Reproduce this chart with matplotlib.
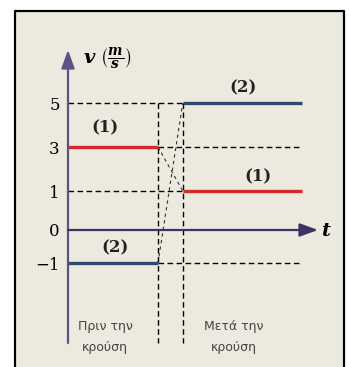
import matplotlib.pyplot as plt
import numpy as np
from matplotlib.patches import Rectangle, FancyArrowPatch
from matplotlib.lines import Line2D

plt.rcParams['mathtext.fontset'] = 'dejavuserif'

# Données : vitesses avant / après la collision
bodies = ['(1)', '(2)']
v_before = [3, -1]
v_after = [1, 5]
line_colors = ['#d42a2e', '#2d4b6e']
yticks = [5, 3, 1, 0, -1]
ytick_labels = ['5', '3', '1', '0', '\u22121']
phase_labels = ['Πριν την\nκρούση', 'Μετά την\nκρούση']

# temps (unités arbitraires) : début, début/fin du choc, fin
t0, t_c1, t_c2, t_end = 0.0, 4.0, 5.1, 10.4

# échelle verticale schématique (0 et -1 plus espacés)
kv = np.array([-100, -1, 0, 1, 5, 100], float)
kp = np.array([-99 * 35, 0, 33, 72, 160, 160 + 95 * 22], float)


def fwd(v):
    return np.interp(v, kv, kp)


def inv(p):
    return np.interp(p, kp, kv)


W, H = 350, 367
fig = plt.figure(figsize=(W / 100, H / 100), dpi=100)
fig.patch.set_facecolor('white')

# cadre (fond + trois côtés, le bas sort de l'image)
xl, xr, yt = 15 / W, 344 / W, 1 - 11 / H
fig.patches.append(Rectangle((xl, 0), xr - xl, yt, transform=fig.transFigure,
                             facecolor='#ece9df', edgecolor='none', zorder=-5))
fig.add_artist(Line2D([xl, xl, xr, xr], [0, yt, yt, 0], transform=fig.transFigure,
                      color='black', lw=1.6, zorder=-4))

ax = fig.add_axes([68 / W, 0, (343 - 68) / W, 1 - 11 / H])
ax.set_facecolor('none')
ax.set_yscale('function', functions=(fwd, inv))
ax.set_xlim(0, (343 - 68) / 22.5)
ax.set_ylim(inv(263 - H), inv(263 - 11))
for s in ax.spines.values():
    s.set_visible(False)
ax.set_xticks([])
ax.set_yticks(yticks)
ax.set_yticklabels(ytick_labels, fontfamily='DejaVu Serif', fontsize=12)
ax.tick_params(axis='y', length=0, pad=6)

dash = dict(color='black', lw=1.0, ls=(0, (4, 2.5)))
v_top = max(v_before + v_after)
v_bot = inv(263 - 343)

# lignes de repère pointillées
for vb, va in zip(v_before, v_after):
    ax.plot([t_c1, t_end], [vb, vb], **dash)
    ax.plot([t0, t_c2], [va, va], **dash)
    ax.plot([t_c1, t_c2], [vb, va], color='#333333', lw=0.8, ls=(0, (3, 3)))
for tc in (t_c1, t_c2):
    ax.plot([tc, tc], [v_top, v_bot], **dash)

# vitesses
for lbl, vb, va, c in zip(bodies, v_before, v_after, line_colors):
    ax.plot([t0, t_c1], [vb, vb], color=c, lw=2.4, solid_capstyle='butt', zorder=4)
    ax.plot([t_c2, t_end], [va, va], color=c, lw=2.4, solid_capstyle='butt', zorder=4)

lbl_font = dict(fontfamily='DejaVu Serif', fontweight='bold', fontsize=12,
                ha='center', va='center', color='#222222')
ax.annotate(bodies[0], xy=(1.65, v_before[0]), xytext=(0, 14),
            textcoords='offset points', **lbl_font)
ax.annotate(bodies[1], xy=(2.1, v_before[1]), xytext=(0, 11),
            textcoords='offset points', **lbl_font)
ax.annotate(bodies[0], xy=(8.45, v_after[0]), xytext=(0, 10.5),
            textcoords='offset points', **lbl_font)
ax.annotate(bodies[1], xy=(7.8, v_after[1]), xytext=(0, 11),
            textcoords='offset points', **lbl_font)

# axes avec flèches
ax.add_patch(FancyArrowPatch((0, v_bot), (0, inv(263 - 50)),
                             arrowstyle='-|>,head_length=0.55,head_width=0.2',
                             mutation_scale=20, color='#5e5282', lw=1.6,
                             shrinkA=0, shrinkB=0, zorder=5, clip_on=False))
ax.add_patch(FancyArrowPatch((0, 0), ((318 - 68) / 22.5, 0),
                             arrowstyle='-|>,head_length=0.55,head_width=0.2',
                             mutation_scale=20, color='#3f3262', lw=1.6,
                             shrinkA=0, shrinkB=0, zorder=5, clip_on=False))

ax.text((321 - 68) / 22.5, 0, r'$\mathbfit{t}$', fontsize=14, ha='left', va='center')
ax.text((83 - 68) / 22.5, inv(263 - 58),
        r'$\mathbfit{v}\ \left(\frac{\mathbfit{m}}{\mathbfit{s}}\right)$',
        fontsize=14, ha='left', va='center')

# phases
for x, txt in zip([(105 - 68) / 22.5, (234 - 68) / 22.5], phase_labels):
    ax.text(x, inv(263 - 320), txt, fontsize=9, color='#444444',
            ha='center', va='top', linespacing=1.75)

fig.savefig('out.png', dpi=100)
